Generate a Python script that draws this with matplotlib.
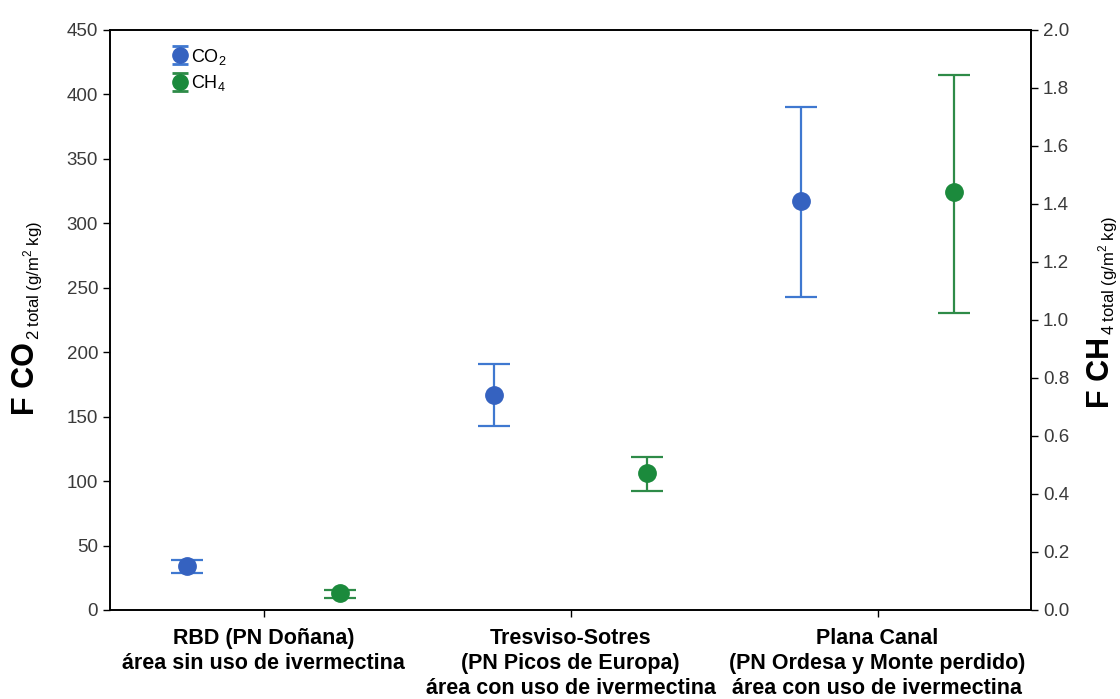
import matplotlib
matplotlib.use("Agg")
from matplotlib import pyplot as plt
import numpy as np

# Data
sites = ["RBD (PN Doñana)\nárea sin uso de ivermectina",
         "Tresviso-Sotres\n(PN Picos de Europa)\nárea con uso de ivermectina",
         "Plana Canal\n(PN Ordesa y Monte perdido)\nárea con uso de ivermectina"]
co2_mean = [34.5, 166.5, 317]
co2_low = [29, 143, 243]
co2_high = [38.5, 190.5, 390.5]
ch4_mean = [0.058, 0.473, 1.442]
ch4_low = [0.043, 0.411, 1.025]
ch4_high = [0.069, 0.527, 1.845]

plt.rcParams['font.family'] = ['Liberation Sans', 'DejaVu Sans']
plt.rcParams['mathtext.fontset'] = 'custom'
plt.rcParams['mathtext.rm'] = 'Liberation Sans'
plt.rcParams['mathtext.bf'] = 'Liberation Sans:bold'

blue = '#3562c0'
blue_bar = '#3f78d0'
green = '#1b8a3c'
green_bar = '#2e8b48'
tick_col = '#3a3a3a'

W, H = 1120, 699
fig = plt.figure(figsize=(W / 100, H / 100), dpi=100)
ax = fig.add_axes([110 / W, 1 - 610 / H, 921 / W, 580 / H])
ax2 = ax.twinx()

x = np.arange(len(sites))
co2_err = [np.array(co2_mean) - np.array(co2_low), np.array(co2_high) - np.array(co2_mean)]
ch4_err = [np.array(ch4_mean) - np.array(ch4_low), np.array(ch4_high) - np.array(ch4_mean)]

ax.errorbar(x + 0.25, co2_mean, yerr=co2_err, fmt='o', color=blue, ecolor=blue_bar,
            markersize=12.5, capsize=11.5, elinewidth=1.6, capthick=1.6)
ax2.errorbar(x + 0.75, ch4_mean, yerr=ch4_err, fmt='o', color=green, ecolor=green_bar,
             markersize=12.5, capsize=11.5, elinewidth=1.6, capthick=1.6)

# legend-only proxies with small caps
p1 = ax.errorbar([np.nan], [np.nan], yerr=[1], fmt='o', color=blue, ecolor=blue_bar,
                 markersize=11, capsize=6, elinewidth=2, capthick=2)
p2 = ax.errorbar([np.nan], [np.nan], yerr=[1], fmt='o', color=green, ecolor=green_bar,
                 markersize=11, capsize=6, elinewidth=2, capthick=2)

ax.set_xlim(0, 3)
ax.set_ylim(0, 450)
ax2.set_ylim(0, 2.0)
ax.set_yticks(np.arange(0, 451, 50))
ax2.set_yticks(np.arange(0, 2.01, 0.2))
ax2.set_yticklabels([f"{v:.1f}" for v in np.arange(0, 2.01, 0.2)])
ax.set_xticks(x + 0.5)
ax.set_xticklabels(sites, fontsize=15.5, fontweight='bold', linespacing=1.25)

for a in (ax, ax2):
    a.tick_params(axis='y', labelsize=13.5, labelcolor=tick_col, length=5, width=1, direction='out')
    for s in a.spines.values():
        s.set_linewidth(1.2)
ax.tick_params(axis='x', length=5, width=1, pad=8)

ax.legend([p1, p2], [r'CO$_2$', r'CH$_4$'], loc='upper left', bbox_to_anchor=(0.052, 0.993),
          frameon=False, fontsize=13, handletextpad=0.15, labelspacing=0.35, handlelength=1.0,
          borderaxespad=0.3)


def stacked_label(xb, yc, main, sub):
    # rotated label: big bold part followed by a small subscript, read bottom to top
    fig.canvas.draw()
    r = fig.canvas.get_renderer()
    kw = dict(rotation=90, rotation_mode='anchor', ha='left', va='baseline',
              transform=None)
    t1 = fig.text(0, 0, main, fontsize=22, fontweight='bold', **kw)
    t2 = fig.text(0, 0, sub, fontsize=12, **kw)
    l1 = t1.get_window_extent(r).height
    l2 = t2.get_window_extent(r).height
    y0 = yc - (l1 + 2 + l2) / 2
    t1.set_position((xb, y0))
    t2.set_position((xb + 5, y0 + l1 + 2))


stacked_label(34, H - 318, 'F CO', r'2 total (g/m$^2$ kg)')
stacked_label(1109, H - 312, 'F CH', r'4 total (g/m$^2$ kg)')

fig.savefig('out.png', dpi=100)
